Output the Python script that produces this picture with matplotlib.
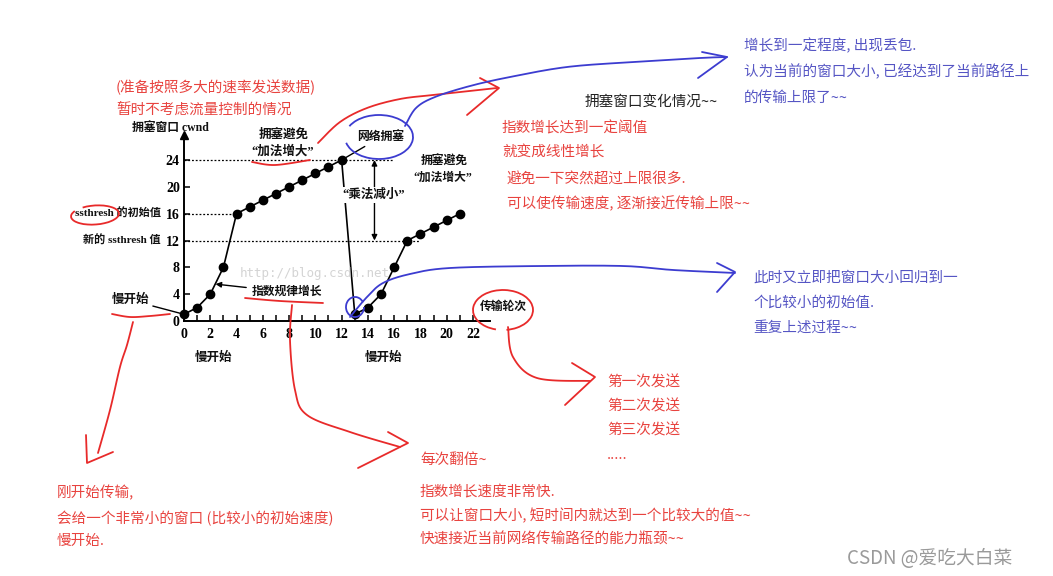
import numpy as np
import matplotlib.pyplot as plt
from matplotlib.patches import Arc

# ---- data ----
rounds = np.arange(0, 22)
cwnd = [1, 2, 4, 8, 16, 17, 18, 19, 20, 21, 22, 23, 24,
        1, 2, 4, 8, 12, 13, 14, 15, 16]
x_ticks = np.arange(0, 23, 2)
x_minor = np.arange(0, 23)
y_ticks = [0, 4, 8, 12, 16, 20, 24]
cwnd_peak = 24
ssthresh_init = 16
ssthresh_new = 12
# dotted guide lines: (cwnd value, x where the dots stop)
guides = [(cwnd_peak, 16), (ssthresh_init, 4), (ssthresh_new, 18)]
thresh_labels = [(ssthresh_init, "ssthresh 的初始值"), (ssthresh_new, "新的 ssthresh 值")]

red_notes = [
    (116, 87, "(准备按照多大的速率发送数据)"),
    (116, 110, "暂时不考虑流量控制的情况"),
    (502, 128, "指数增长达到一定阈值"),
    (502, 152, "就变成线性增长"),
    (507, 180, "避免一下突然超过上限很多."),
    (507, 204, "可以使传输速度, 逐渐接近传输上限~~"),
    (607, 382, "第一次发送"),
    (607, 406, "第二次发送"),
    (607, 430, "第三次发送"),
    (607, 455, "....."),
    (420, 460, "每次翻倍~"),
    (420, 492, "指数增长速度非常快."),
    (420, 516, "可以让窗口大小, 短时间内就达到一个比较大的值~~"),
    (420, 540, "快速接近当前网络传输路径的能力瓶颈~~"),
    (57, 493, "刚开始传输,"),
    (57, 518, "会给一个非常小的窗口 (比较小的初始速度)"),
    (57, 541, "慢开始."),
]
blue_notes = [
    (744, 46, "增长到一定程度, 出现丢包."),
    (744, 72, "认为当前的窗口大小, 已经达到了当前路径上"),
    (744, 98, "的传输上限了~~"),
    (753, 278, "此时又立即把窗口大小回归到一"),
    (753, 303, "个比较小的初始值."),
    (753, 328, "重复上述过程~~"),
]

W, H = 1053, 576
fig = plt.figure(figsize=(W / 100, H / 100), dpi=100)

# chart axes placed where the scanned chart sits
x0, y0, x_end, y_top = 184, 321, 490, 135
sx, sy = 13.136, 6.708
ax = fig.add_axes([x0 / W, 1 - y0 / H, (x_end - x0) / W, (y0 - y_top) / H])
ax.set_xlim(0, (x_end - x0) / sx)
ax.set_ylim(0, (y0 - y_top) / sy)
ax.patch.set_alpha(0)
for s in ["top", "right"]:
    ax.spines[s].set_visible(False)
for s in ["left", "bottom"]:
    ax.spines[s].set_linewidth(1.4)

ax.set_xticks(x_ticks)
ax.set_xticks(x_minor, minor=True)
ax.set_yticks(y_ticks)
ax.tick_params(direction="in", length=4, width=1.1)
ax.tick_params(axis="x", which="minor", direction="in", length=4, width=1.1)
ax.tick_params(axis="x", pad=5)
ax.tick_params(axis="y", pad=3)
chart_font = ["Liberation Serif", "Noto Sans CJK SC"]
for lab in ax.get_xticklabels() + ax.get_yticklabels():
    lab.set_fontfamily(chart_font)
    lab.set_fontweight("bold")
    lab.set_fontsize(10)

ax.plot(0, ax.get_ylim()[1], marker="^", color="k", ms=6, clip_on=False)
ax.plot(rounds, cwnd, "-o", color="k", lw=1.2, ms=6, clip_on=False, zorder=3)
for val, stop in guides:
    ax.hlines(val, 0, stop, colors="k", linestyles=(0, (1.5, 1.5)), lw=0.9)
ax.annotate("", xy=(14.5, ssthresh_new), xytext=(14.5, cwnd_peak),
            arrowprops=dict(arrowstyle="<|-|>", lw=1, color="k",
                            mutation_scale=8, shrinkA=0, shrinkB=0))

# overlay in pixel coordinates for notes and hand strokes
ov = fig.add_axes([0, 0, 1, 1])
ov.set_xlim(0, W)
ov.set_ylim(H, 0)
ov.axis("off")

cf = dict(family=chart_font, weight="bold", fontsize=9, color="#111111",
          ha="center", va="center")
ov.text(315, 273, "http://blog.csdn.net", family="DejaVu Sans Mono",
        fontsize=9, color="#d4d4d4", ha="center", va="center")
ov.text(170, 128, "拥塞窗口 cwnd", **{**cf, "fontsize": 8.5})
ov.text(284, 135, "拥塞避免", **cf)
ov.text(283, 151, "“加法增大”", **cf)
ov.text(444, 162, "拥塞避免", **{**cf, "fontsize": 8.5})
ov.text(443, 178, "“加法增大”", **{**cf, "fontsize": 8.5})
ov.text(374, 195, "“乘法减小”", bbox=dict(fc="white", ec="none", pad=1), **cf)
ov.text(213, 358, "慢开始", **cf)
ov.text(383, 358, "慢开始", **cf)
ov.text(503, 307, "传输轮次", **{**cf, "fontsize": 8.5})
for val, txt in thresh_labels:
    ax.annotate(txt, xy=(0, val), xytext=(-23, 0), textcoords="offset pixels",
                annotation_clip=False,
                **{**cf, "fontsize": 8, "ha": "right"})

ax.annotate("慢开始", xy=(0, 1), xytext=(130, 300), textcoords=ov.transData,
            arrowprops=dict(arrowstyle="-", lw=1, color="k", shrinkA=1, shrinkB=3),
            annotation_clip=False, **cf)
ax.annotate("指数规律增长", xy=(2.4, 5.5), xytext=(287, 292), textcoords=ov.transData,
            arrowprops=dict(arrowstyle="-|>", lw=1, color="k", mutation_scale=8,
                            shrinkA=2, shrinkB=0),
            annotation_clip=False, **{**cf, "fontsize": 8.5})
ax.annotate("网络拥塞", xy=(12, 24), xytext=(381, 137), textcoords=ov.transData,
            arrowprops=dict(arrowstyle="-", lw=1, color="k", shrinkA=1, shrinkB=0),
            annotation_clip=False, **{**cf, "fontsize": 8.5})

nf = dict(family=["Noto Sans CJK SC", "DejaVu Sans"], fontsize=10.5,
          ha="left", va="center")
red = "#e8433f"
blue = "#5555c4"
for x, y, t in red_notes:
    ov.text(x, y, t, color=red, **nf)
for x, y, t in blue_notes:
    ov.text(x, y, t, color=blue, **nf)
ov.text(585, 102, "拥塞窗口变化情况~~", color="#222222", **nf)
ov.text(847, 558, "CSDN @爱吃大白菜", family=["Noto Sans CJK SC", "DejaVu Sans"],
        fontsize=13.5, color="#9a9a9a", ha="left", va="center")


def smooth(pts, n=24):
    p = np.asarray(pts, float)
    p = np.vstack([p[0], p, p[-1]])
    t = np.linspace(0, 1, n)[:, None]
    out = []
    for i in range(1, len(p) - 2):
        a, b, c, d = p[i - 1], p[i], p[i + 1], p[i + 2]
        out.append(0.5 * (2 * b + (c - a) * t + (2 * a - 5 * b + 4 * c - d) * t ** 2
                          + (3 * b - a - 3 * c + d) * t ** 3))
    return np.vstack(out)


def stroke(pts, color, curve=True):
    xy = smooth(pts) if curve else np.asarray(pts, float)
    ov.plot(xy[:, 0], xy[:, 1], color=color, lw=1.3, solid_capstyle="round",
            solid_joinstyle="round")


rc = "#e82a2a"
bc = "#3c3cd0"
# red strokes
stroke([(252, 162), (275, 165), (310, 160)], rc)
stroke([(318, 143), (340, 122), (367, 108), (400, 99), (433, 95), (470, 91), (497, 88)], rc)
stroke([(480, 78), (499, 88), (467, 115)], rc, curve=False)
ov.add_patch(Arc((95, 215), 48, 19, angle=-4, theta1=215, theta2=195, color=rc, lw=1.3))
stroke([(112, 314), (130, 317), (150, 316), (170, 314)], rc)
stroke([(133, 322), (127, 345), (120, 367), (110, 410), (98, 453)], rc)
stroke([(86, 435), (87, 463), (113, 452)], rc, curve=False)
stroke([(245, 298), (280, 301), (323, 303)], rc)
stroke([(292, 305), (290, 340), (295, 390), (307, 415), (350, 432), (400, 447)], rc)
stroke([(388, 432), (408, 443), (358, 468)], rc, curve=False)
ov.add_patch(Arc((503, 310), 60, 40, angle=0, theta1=110, theta2=80, color=rc, lw=1.3))
stroke([(508, 327), (513, 357), (537, 378), (590, 381)], rc)
stroke([(572, 363), (595, 377), (565, 405)], rc, curve=False)
# blue strokes
ov.add_patch(Arc((379, 137), 68, 44, angle=0, theta1=200, theta2=170, color=bc, lw=1.3))
stroke([(405, 126), (416, 108), (435, 97), (470, 86), (510, 77), (567, 67),
        (633, 62), (700, 58), (727, 57)], bc)
stroke([(702, 52), (727, 57), (698, 78)], bc, curve=False)
ov.add_patch(Arc((355, 307), 18, 20, angle=0, theta1=0, theta2=330, color=bc, lw=1.3))
stroke([(350, 317), (367, 297), (383, 283), (410, 274), (450, 268), (540, 266),
        (623, 266), (673, 270), (735, 273)], bc)
stroke([(717, 263), (735, 272), (717, 292)], bc, curve=False)

fig.savefig("out.png", dpi=100)
